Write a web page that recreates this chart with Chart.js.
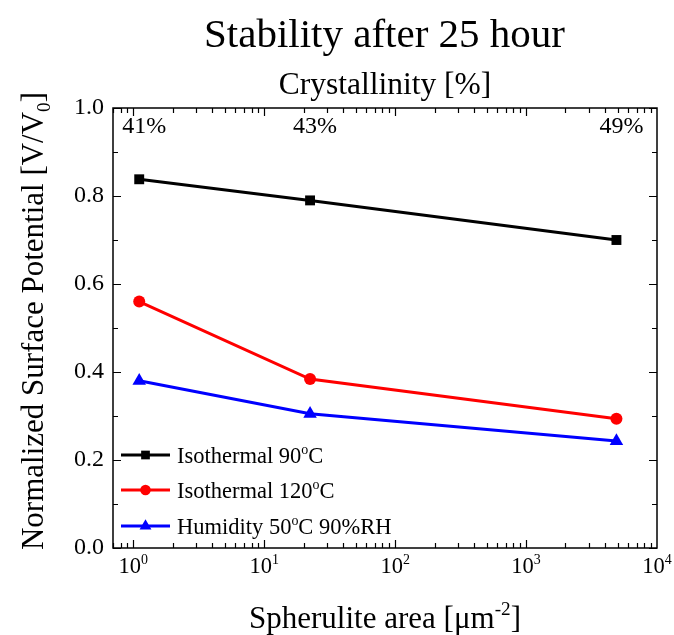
<!DOCTYPE html>
<html><head><meta charset="utf-8">
<script src="https://cdn.jsdelivr.net/npm/chart.js@4/dist/chart.umd.min.js"></script>
<style>html,body{margin:0;padding:0;background:#fff}#wrap{width:674px;height:635px}</style>
</head><body><div id="wrap"><canvas id="c" width="674" height="635"></canvas></div>
<script>
const spheruliteArea = [1.11, 22.4, 4900];
const crystallinityLabels = ['41%', '43%', '49%'];
const iso90 = [0.838, 0.790, 0.700];
const iso120 = [0.560, 0.384, 0.294];
const humid = [0.380, 0.305, 0.243];
const xTickExps = [0, 1, 2, 3, 4];
const yTicks = [0, 0.2, 0.4, 0.6, 0.8, 1.0];

const FONT = '"Liberation Serif", "Times New Roman", serif';

function richWidth(ctx, parts, size) {
  let w = 0;
  for (const p of parts) {
    ctx.font = (p.s ? size * 0.62 : size) + 'px ' + FONT;
    w += ctx.measureText(p.t).width;
  }
  return w;
}
function drawRich(ctx, parts, x, y, size, align) {
  const w = richWidth(ctx, parts, size);
  let cx = align === 'center' ? x - w / 2 : (align === 'right' ? x - w : x);
  ctx.textAlign = 'left';
  ctx.textBaseline = 'alphabetic';
  for (const p of parts) {
    const fs = p.s ? size * 0.62 : size;
    ctx.font = fs + 'px ' + FONT;
    const dy = p.s === 'sup' ? -size * 0.42 : (p.s === 'sub' ? size * 0.22 : 0);
    ctx.fillText(p.t, cx, y + dy);
    cx += ctx.measureText(p.t).width;
  }
}

const decor = {
  id: 'decor',
  afterDraw(chart) {
    const ctx = chart.ctx;
    const xs = chart.scales.x, ys = chart.scales.y;
    const a = chart.chartArea;
    ctx.save();
    ctx.fillStyle = '#000';
    ctx.strokeStyle = '#000';
    // frame
    ctx.lineWidth = 1.5;
    ctx.strokeRect(a.left, a.top, a.right - a.left, a.bottom - a.top);
    // x ticks (inward, bottom & top)
    ctx.lineWidth = 1.2;
    ctx.beginPath();
    for (let e = -1; e <= 3; e++) {
      for (let m = 1; m <= 9; m++) {
        const v = m * Math.pow(10, e);
        if (v < xs.min || v > xs.max) continue;
        const px = Math.round(xs.getPixelForValue(v)) + 0.5;
        const len = m === 1 ? 8 : 5;
        ctx.moveTo(px, a.bottom); ctx.lineTo(px, a.bottom - len);
        ctx.moveTo(px, a.top); ctx.lineTo(px, a.top + len);
      }
    }
    // y ticks (inward, left & right)
    for (let i = 0; i <= 10; i++) {
      const v = i / 10;
      const py = Math.round(ys.getPixelForValue(v)) + 0.5;
      const len = i % 2 === 0 ? 8 : 5;
      ctx.moveTo(a.left, py); ctx.lineTo(a.left + len, py);
      ctx.moveTo(a.right, py); ctx.lineTo(a.right - len, py);
    }
    ctx.stroke();
    // x tick labels with superscripts
    for (const e of xTickExps) {
      const px = xs.getPixelForValue(Math.pow(10, e));
      drawRich(ctx, [{t: '10'}, {t: String(e), s: 'sup'}], px, 573, 22.5, 'center');
    }
    // crystallinity labels
    ctx.font = '24px ' + FONT;
    ctx.textAlign = 'center';
    ctx.textBaseline = 'alphabetic';
    spheruliteArea.forEach((v, i) => {
      ctx.fillText(crystallinityLabels[i], xs.getPixelForValue(v) + 5, 133);
    });
    // titles
    const cx = (a.left + a.right) / 2;
    ctx.font = '41px ' + FONT;
    ctx.fillText('Stability after 25 hour', cx - 0.5, 47);
    ctx.font = '31.5px ' + FONT;
    ctx.fillText('Crystallinity [%]', cx, 94);
    drawRich(ctx, [{t: 'Spherulite area [\u03bcm'}, {t: '-2', s: 'sup'}, {t: ']'}], cx, 628, 31, 'center');
    ctx.save();
    ctx.translate(43, 321);
    ctx.rotate(-Math.PI / 2);
    drawRich(ctx, [{t: 'Normalized Surface Potential [V/V'}, {t: '0', s: 'sub'}, {t: ']'}], 0, 0, 31, 'center');
    ctx.restore();
    // legend
    const items = [
      {ds: chart.data.datasets[0], parts: [{t: 'Isothermal 90'}, {t: 'o', s: 'sup'}, {t: 'C'}]},
      {ds: chart.data.datasets[1], parts: [{t: 'Isothermal 120'}, {t: 'o', s: 'sup'}, {t: 'C'}]},
      {ds: chart.data.datasets[2], parts: [{t: 'Humidity 50'}, {t: 'o', s: 'sup'}, {t: 'C 90%RH'}]}
    ];
    const rows = [455, 490, 526];
    items.forEach((it, i) => {
      const y = rows[i];
      ctx.strokeStyle = it.ds.borderColor;
      ctx.lineWidth = it.ds.borderWidth;
      ctx.beginPath(); ctx.moveTo(121, y); ctx.lineTo(170, y); ctx.stroke();
      ctx.fillStyle = it.ds.backgroundColor;
      Chart.helpers.drawPoint(ctx, {pointStyle: it.ds.pointStyle, radius: it.ds.pointRadius * 0.88, borderWidth: 0}, 145.5, y);
      ctx.fillStyle = '#000';
      drawRich(ctx, it.parts, 177, y + 8, 22.5, 'left');
    });
    ctx.restore();
  }
};

new Chart(document.getElementById('c'), {
  type: 'line',
  data: {
    datasets: [
      {label: 'Isothermal 90°C', data: spheruliteArea.map((x, i) => ({x, y: iso90[i]})),
       borderColor: '#000000', backgroundColor: '#000000', pointStyle: 'rect', pointRadius: 7, borderWidth: 3, pointBorderWidth: 0},
      {label: 'Isothermal 120°C', data: spheruliteArea.map((x, i) => ({x, y: iso120[i]})),
       borderColor: '#ff0000', backgroundColor: '#ff0000', pointStyle: 'circle', pointRadius: 6, borderWidth: 3, pointBorderWidth: 0},
      {label: 'Humidity 50°C 90%RH', data: spheruliteArea.map((x, i) => ({x, y: humid[i]})),
       borderColor: '#0000ff', backgroundColor: '#0000ff', pointStyle: 'triangle', pointRadius: 7.8, borderWidth: 3, pointBorderWidth: 0}
    ]
  },
  options: {
    responsive: false,
    animation: false,
    devicePixelRatio: 1,
    layout: {padding: {left: 0, right: 17, top: 108, bottom: 0}},
    plugins: {legend: {display: false}, tooltip: {enabled: false}, title: {display: false}},
    elements: {line: {tension: 0}},
    scales: {
      x: {
        type: 'logarithmic', min: 0.7, max: 10000,
        grid: {display: false, drawTicks: false},
        border: {display: false},
        ticks: {display: false},
        afterFit: s => { s.height = 87; }
      },
      y: {
        type: 'linear', min: 0, max: 1,
        grid: {display: false, drawTicks: false},
        border: {display: false},
        afterBuildTicks: s => { s.ticks = yTicks.map(v => ({value: v})); },
        ticks: {color: '#000', font: {family: FONT, size: 24}, padding: 9,
                callback: v => Number(v).toFixed(1)},
        afterFit: s => { s.width = 113; }
      }
    }
  },
  plugins: [decor]
});
</script></body></html>
